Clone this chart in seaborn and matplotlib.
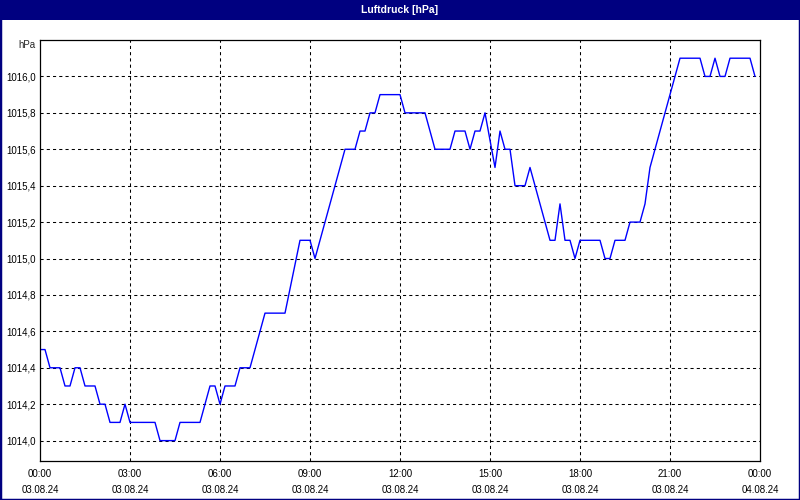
## Luftdruck chart for 03.08.24 ##

import matplotlib
matplotlib.use("Agg")
import matplotlib.pyplot as plt
from matplotlib.patches import Rectangle
import seaborn as sns
import pandas as pd


# minutes since 03.08.24 00:00 where the curve changes direction
minutes = [0, 10, 20, 40, 50, 60, 70, 80, 90, 110, 120, 130, 140, 160, 170, 180,
           230, 240, 270, 280, 320, 340, 350, 360, 370, 390, 400, 420, 450, 490,
           505, 520, 540, 550, 610, 630, 640, 650, 660, 670, 680, 720, 730, 770,
           790, 820, 830, 850, 860, 870, 880, 890, 910, 920, 930, 940, 950, 970,
           980, 1020, 1030, 1040, 1050, 1060, 1070, 1080, 1120, 1130, 1140, 1150,
           1170, 1180, 1200, 1210, 1220, 1230, 1270, 1280, 1320, 1330, 1340, 1350,
           1360, 1370, 1380, 1420, 1430]
pressure = [1014.5, 1014.5, 1014.4, 1014.4, 1014.3, 1014.3, 1014.4, 1014.4, 1014.3,
            1014.3, 1014.2, 1014.2, 1014.1, 1014.1, 1014.2, 1014.1, 1014.1, 1014.0,
            1014.0, 1014.1, 1014.1, 1014.3, 1014.3, 1014.2, 1014.3, 1014.3, 1014.4,
            1014.4, 1014.7, 1014.7, 1014.9, 1015.1, 1015.1, 1015.0, 1015.6, 1015.6,
            1015.7, 1015.7, 1015.8, 1015.8, 1015.9, 1015.9, 1015.8, 1015.8, 1015.6,
            1015.6, 1015.7, 1015.7, 1015.6, 1015.7, 1015.7, 1015.8, 1015.5, 1015.7,
            1015.6, 1015.6, 1015.4, 1015.4, 1015.5, 1015.1, 1015.1, 1015.3, 1015.1,
            1015.1, 1015.0, 1015.1, 1015.1, 1015.0, 1015.0, 1015.1, 1015.1, 1015.2,
            1015.2, 1015.3, 1015.5, 1015.6, 1016.0, 1016.1, 1016.1, 1016.0, 1016.0,
            1016.1, 1016.0, 1016.0, 1016.1, 1016.1, 1016.0]

tick_hours = [0, 3, 6, 9, 12, 15, 18, 21, 24]
time_labels = ["00:00", "03:00", "06:00", "09:00", "12:00", "15:00", "18:00", "21:00", "00:00"]
date_labels = ["03.08.24"] * 8 + ["04.08.24"]
y_ticks = [1014.0, 1014.2, 1014.4, 1014.6, 1014.8, 1015.0, 1015.2, 1015.4, 1015.6, 1015.8, 1016.0]

navy = "#000080"
line_blue = "#0000ff"

df = pd.DataFrame({"hours": [m / 60 for m in minutes], "hPa": pressure})

sns.set_style("white")
plt.rcParams["font.family"] = ["Liberation Sans", "DejaVu Sans"]

fig = plt.figure(figsize=(8, 5), dpi=100, facecolor="white")
ax = fig.add_axes([40 / 800, 39 / 500, 720 / 800, 421 / 500])

sns.lineplot(data=df, x="hours", y="hPa", color=line_blue, linewidth=1.0, ax=ax)

ax.set_xlim(0, 24)
ax.set_ylim(1013.888, 1016.2)
ax.set_xlabel("")
ax.set_ylabel("")

# grid
for h in tick_hours[1:-1]:
    ax.axvline(h, color="black", lw=0.75, linestyle=(0, (3, 3)), zorder=1)
for v in y_ticks:
    ax.axhline(v, color="black", lw=0.75, linestyle=(0, (3, 3)), zorder=1)

ax.set_xticks(tick_hours)
ax.set_xticklabels([f"{t}\n{d}" for t, d in zip(time_labels, date_labels)])
ax.set_xticks(range(25), minor=True)
ax.tick_params(axis="x", which="both", direction="in", length=2.5, width=0.75,
               pad=6, labelsize=7, colors="black")
for lab in ax.get_xticklabels():
    lab.set_linespacing(1.75)

ax.set_yticks(y_ticks)
ax.set_yticklabels([f"{v:.1f}".replace(".", ",") for v in y_ticks])
ax.tick_params(axis="y", length=0, pad=3, labelsize=7, colors="black")

for s in ax.spines.values():
    s.set_visible(True)
    s.set_color("black")
    s.set_linewidth(0.9)

ax.annotate("hPa", xy=(0, 1), xycoords="axes fraction", xytext=(-3, 0),
            textcoords="offset points", ha="right", va="top", fontsize=7)

# title bar and window border
fig.patches.append(Rectangle((0, 480 / 500), 1, 20 / 500, transform=fig.transFigure,
                             facecolor=navy, edgecolor="none", zorder=0))
fig.text(0.5, 490 / 500, "Luftdruck [hPa]", color="white", fontweight="bold",
         ha="center", va="center", fontsize=7.5)
fig.patches.append(Rectangle((0, 0), 1, 1, transform=fig.transFigure, fill=False,
                             edgecolor=navy, linewidth=2.5, zorder=5))

fig.savefig("out.png", dpi=100, facecolor="white")
